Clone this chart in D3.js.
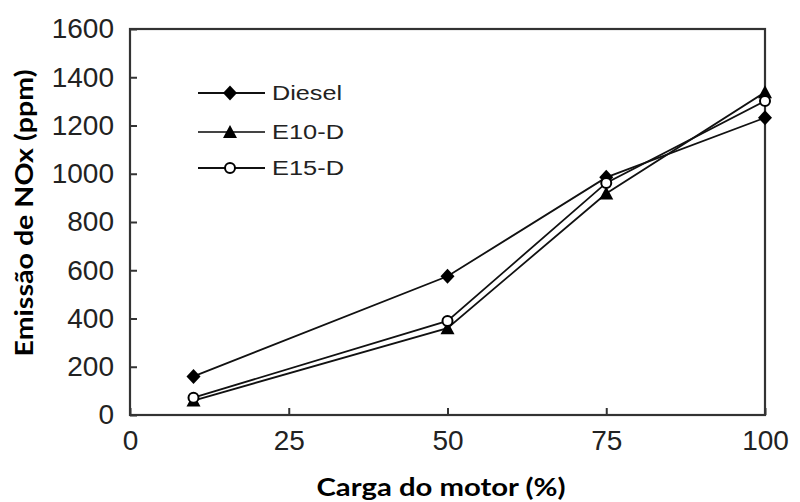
<!DOCTYPE html>
<html>
<head>
<meta charset="utf-8">
<script src="https://cdn.jsdelivr.net/npm/d3@7"></script>
<style>
  body { margin: 0; background: #fff; }
  svg { display: block; }
  .tick text { font-family: "Liberation Sans", Arial, sans-serif; fill: #222; }
</style>
</head>
<body>
<svg id="canvas"></svg>
<script>
let loads = [10, 50, 75, 100]
let diesel = [160, 575, 985, 1232]
let e10d = [60, 360, 918, 1338]
let e15d = [72, 390, 962, 1302]
let seriesNames = ['Diesel', 'E10-D', 'E15-D']
let xTicks = [0, 25, 50, 75, 100]
let yTicks = [0, 200, 400, 600, 800, 1000, 1200, 1400, 1600]

let width = 800
let height = 502

let canvas = d3.select('#canvas')
               .attr('width', width)
               .attr('height', height)

let xScale = d3.scaleLinear().domain([0, 100]).range([130, 765])
let yScale = d3.scaleLinear().domain([0, 1600]).range([415, 29])

let series = [
  { name: seriesNames[0], values: diesel, marker: 'diamond' },
  { name: seriesNames[1], values: e10d, marker: 'triangle' },
  { name: seriesNames[2], values: e15d, marker: 'circle' }
]

let drawMarker = (g, type, x, y) => {
  if (type === 'diamond') {
    g.append('path')
     .attr('d', `M${x},${y - 7.5}L${x + 7},${y}L${x},${y + 7.5}L${x - 7},${y}Z`)
     .attr('fill', '#000')
  } else if (type === 'triangle') {
    g.append('path')
     .attr('d', `M${x},${y - 7}L${x + 7},${y + 6}L${x - 7},${y + 6}Z`)
     .attr('fill', '#000')
  } else {
    g.append('circle')
     .attr('cx', x).attr('cy', y).attr('r', 5)
     .attr('fill', '#fff').attr('stroke', '#000').attr('stroke-width', 2)
  }
}

// axes (ticks point inward)
let xAxis = d3.axisBottom(xScale)
              .tickValues(xTicks)
              .tickFormat(d3.format('d'))
              .tickSize(-7)
              .tickSizeOuter(0)
              .tickPadding(15)

let yAxis = d3.axisLeft(yScale)
              .tickValues(yTicks)
              .tickFormat(d3.format('d'))
              .tickSize(-7)
              .tickSizeOuter(0)
              .tickPadding(16)

let gx = canvas.append('g')
      .attr('transform', `translate(0, ${yScale(0)})`)
      .call(xAxis)
gx.selectAll('text').style('font-size', '28px')

let gy = canvas.append('g')
      .attr('transform', `translate(${xScale(0)}, 0)`)
      .call(yAxis)
gy.selectAll('text').style('font-size', '28px')

canvas.selectAll('.tick line').attr('stroke', '#333').attr('stroke-width', 2)
canvas.selectAll('.domain').remove()

// frame
canvas.append('rect')
      .attr('x', xScale(0))
      .attr('y', yScale(1600))
      .attr('width', xScale(100) - xScale(0))
      .attr('height', yScale(0) - yScale(1600))
      .attr('fill', 'none')
      .attr('stroke', '#333')
      .attr('stroke-width', 2.2)

// lines and markers
let line = d3.line()
             .x((d, i) => xScale(loads[i]))
             .y(d => yScale(d))

series.forEach(s => {
  canvas.append('path')
        .datum(s.values)
        .attr('d', line)
        .attr('fill', 'none')
        .attr('stroke', '#111')
        .attr('stroke-width', 1.8)
})

series.forEach(s => {
  let g = canvas.append('g')
  s.values.forEach((v, i) => drawMarker(g, s.marker, xScale(loads[i]), yScale(v)))
})

// legend
let legendY = [93, 132, 168]
series.forEach((s, i) => {
  let g = canvas.append('g')
  g.append('line')
   .attr('x1', 198).attr('x2', 265)
   .attr('y1', legendY[i]).attr('y2', legendY[i])
   .attr('stroke', i === 1 ? '#444' : '#111')
   .attr('stroke-width', 2)
  drawMarker(g, s.marker, 230, legendY[i])
  g.append('text')
   .attr('x', 272)
   .attr('y', legendY[i])
   .attr('dy', '0.35em')
   .attr('font-family', '"Liberation Sans", Arial, sans-serif')
   .attr('font-size', 20)
   .attr('fill', '#222')
   .attr('textLength', s.name === 'Diesel' ? 70 : 72)
   .attr('lengthAdjust', 'spacingAndGlyphs')
   .text(s.name)
})

// axis titles
canvas.append('text')
      .attr('x', 441)
      .attr('y', 496)
      .attr('text-anchor', 'middle')
      .attr('font-family', 'Lato, "Open Sans", sans-serif')
      .attr('font-weight', 'bold')
      .attr('font-size', 24)
      .attr('textLength', 249)
      .attr('lengthAdjust', 'spacingAndGlyphs')
      .text('Carga do motor  (%)')

canvas.append('text')
      .attr('transform', 'translate(33, 213) rotate(-90)')
      .attr('text-anchor', 'middle')
      .attr('font-family', 'Lato, "Open Sans", sans-serif')
      .attr('font-weight', 'bold')
      .attr('font-size', 24)
      .attr('textLength', 287)
      .attr('lengthAdjust', 'spacingAndGlyphs')
      .text('Emissão de NOx  (ppm)')
</script>
</body>
</html>
